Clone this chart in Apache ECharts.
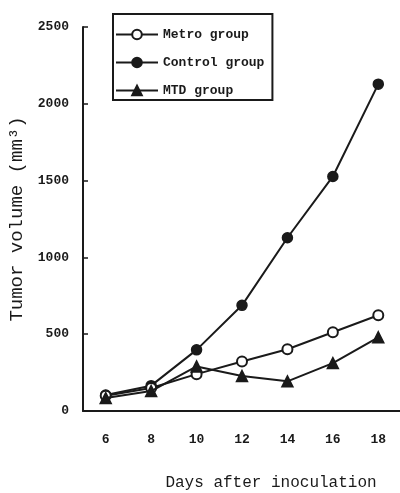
<!DOCTYPE html>
<html><head><meta charset="utf-8">
<script src="https://cdn.jsdelivr.net/npm/echarts@6/dist/echarts.min.js"></script>
<style>html,body{margin:0;padding:0;background:#fff}#c{width:400px;height:493px}</style>
</head><body><div id="c"></div>
<script>
const days = ['6','8','10','12','14','16','18'];
const metro = [100, 150, 240, 322, 402, 513, 623];
const control = [104, 165, 398, 688, 1128, 1527, 2128];
const mtd = [84, 130, 290, 228, 193, 312, 480];
const yTicks = [0, 500, 1000, 1500, 2000, 2500];

const FONT = '"Liberation Mono", "DejaVu Sans Mono", monospace';
const INK = '#1a1a1a';
const chart = echarts.init(document.getElementById('c'), null, {renderer: 'canvas'});
const lineBase = {
  type: 'line',
  lineStyle: {color: INK, width: 2},
  itemStyle: {color: INK, borderColor: INK, borderWidth: 1.5},
  symbolSize: 10,
  animation: false
};
chart.setOption({
  backgroundColor: '#fff',
  animation: false,
  textStyle: {fontFamily: FONT},
  grid: {left: 83, top: 27, width: 318, height: 384, containLabel: false, outerBoundsMode: 'none'},
  legend: {
    orient: 'vertical', left: 113, top: 14,
    padding: [14, 8, 3, 2],
    itemWidth: 42, itemHeight: 12, itemGap: 15,
    borderColor: INK, borderWidth: 2,
    textStyle: {fontFamily: FONT, fontSize: 13, color: INK, fontWeight: 'bold'},
    data: ['Metro group', 'Control group', 'MTD group']
  },
  xAxis: {
    type: 'category', data: days, boundaryGap: true,
    name: 'Days after inoculation', nameLocation: 'middle', nameGap: 64,
    nameTextStyle: {fontFamily: FONT, fontSize: 16, color: INK, padding: [0, 0, 0, 58]},
    axisLine: {lineStyle: {color: INK, width: 2}},
    axisTick: {inside: true, length: 5, lineStyle: {color: INK, width: 1.5}},
    axisLabel: {fontFamily: FONT, fontSize: 13, color: INK, margin: 22, fontWeight: 'bold'}
  },
  yAxis: {
    type: 'value', min: 0, max: 2500, interval: 500,
    name: 'Tumor volume (mm³)', nameLocation: 'middle', nameGap: 54, nameRotate: 90,
    nameTextStyle: {fontFamily: FONT, fontSize: 19, color: INK},
    splitLine: {show: false},
    axisLine: {show: true, lineStyle: {color: INK, width: 2}},
    axisTick: {show: true, inside: true, length: 5, lineStyle: {color: INK, width: 1.5}},
    axisLabel: {fontFamily: FONT, fontSize: 13, color: INK, margin: 14, fontWeight: 'bold',
      formatter: v => yTicks.includes(v) ? String(v) : ''}
  },
  series: [
    Object.assign({}, lineBase, {name: 'Metro group', data: metro, symbol: 'circle', z: 3,
      itemStyle: {color: '#fff', borderColor: INK, borderWidth: 2}}),
    Object.assign({}, lineBase, {name: 'Control group', data: control, symbol: 'circle', z: 2}),
    Object.assign({}, lineBase, {name: 'MTD group', data: mtd, symbol: 'triangle', symbolSize: 11, z: 4})
  ]
});
</script></body></html>
